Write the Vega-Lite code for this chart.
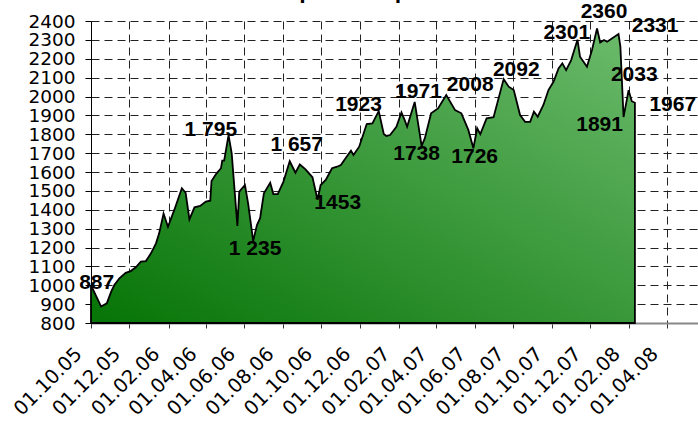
{
  "$schema": "https://vega.github.io/schema/vega-lite/v6.json",
  "width": 607,
  "height": 302,
  "autosize": {"type": "none"},
  "padding": {"left": 91, "top": 21, "right": 0, "bottom": 98},
  "background": "white",
  "title": {
    "text": "Цена акций",
    "font": "Liberation Sans",
    "fontSize": 26,
    "fontWeight": "bold",
    "color": "black",
    "anchor": "middle",
    "dx": -36,
    "dy": 6
  },
  "config": {
    "view": {"stroke": null},
    "axis": {"gridColor": "#222", "gridDash": [8, 5], "gridWidth": 1, "gridOpacity": 1}
  },
  "datasets": {
    "price": [
      {"date": "2005-10-01", "value": 1000},
      {"date": "2005-10-17", "value": 887},
      {"date": "2005-10-26", "value": 904},
      {"date": "2005-11-02", "value": 966},
      {"date": "2005-11-07", "value": 1001},
      {"date": "2005-11-15", "value": 1037},
      {"date": "2005-11-25", "value": 1066},
      {"date": "2005-12-03", "value": 1075},
      {"date": "2005-12-11", "value": 1095},
      {"date": "2005-12-19", "value": 1125},
      {"date": "2005-12-27", "value": 1128},
      {"date": "2006-01-04", "value": 1169},
      {"date": "2006-01-12", "value": 1222},
      {"date": "2006-01-17", "value": 1275},
      {"date": "2006-01-24", "value": 1380},
      {"date": "2006-01-31", "value": 1310},
      {"date": "2006-02-10", "value": 1399},
      {"date": "2006-02-22", "value": 1514},
      {"date": "2006-02-28", "value": 1490},
      {"date": "2006-03-06", "value": 1349},
      {"date": "2006-03-14", "value": 1413},
      {"date": "2006-03-23", "value": 1420},
      {"date": "2006-04-01", "value": 1443},
      {"date": "2006-04-08", "value": 1448},
      {"date": "2006-04-10", "value": 1552},
      {"date": "2006-04-18", "value": 1593},
      {"date": "2006-04-25", "value": 1620},
      {"date": "2006-04-27", "value": 1660},
      {"date": "2006-04-30", "value": 1660},
      {"date": "2006-05-07", "value": 1795},
      {"date": "2006-05-12", "value": 1699},
      {"date": "2006-05-21", "value": 1314},
      {"date": "2006-05-24", "value": 1496},
      {"date": "2006-06-02", "value": 1531},
      {"date": "2006-06-07", "value": 1434},
      {"date": "2006-06-15", "value": 1235},
      {"date": "2006-06-21", "value": 1319},
      {"date": "2006-06-26", "value": 1355},
      {"date": "2006-07-02", "value": 1487},
      {"date": "2006-07-12", "value": 1543},
      {"date": "2006-07-17", "value": 1483},
      {"date": "2006-07-24", "value": 1483},
      {"date": "2006-08-02", "value": 1549},
      {"date": "2006-08-12", "value": 1657},
      {"date": "2006-08-21", "value": 1596},
      {"date": "2006-08-28", "value": 1640},
      {"date": "2006-09-06", "value": 1614},
      {"date": "2006-09-17", "value": 1572},
      {"date": "2006-09-25", "value": 1453},
      {"date": "2006-09-30", "value": 1531},
      {"date": "2006-10-08", "value": 1558},
      {"date": "2006-10-18", "value": 1620},
      {"date": "2006-10-26", "value": 1628},
      {"date": "2006-11-01", "value": 1637},
      {"date": "2006-11-09", "value": 1676},
      {"date": "2006-11-17", "value": 1713},
      {"date": "2006-11-21", "value": 1690},
      {"date": "2006-11-30", "value": 1734},
      {"date": "2006-12-12", "value": 1854},
      {"date": "2006-12-21", "value": 1858},
      {"date": "2006-12-31", "value": 1923},
      {"date": "2007-01-08", "value": 1801},
      {"date": "2007-01-12", "value": 1791},
      {"date": "2007-01-18", "value": 1796},
      {"date": "2007-01-28", "value": 1840},
      {"date": "2007-02-05", "value": 1915},
      {"date": "2007-02-10", "value": 1876},
      {"date": "2007-02-14", "value": 1840},
      {"date": "2007-02-26", "value": 1971},
      {"date": "2007-03-09", "value": 1738},
      {"date": "2007-03-14", "value": 1778},
      {"date": "2007-03-24", "value": 1911},
      {"date": "2007-04-04", "value": 1937},
      {"date": "2007-04-17", "value": 2008},
      {"date": "2007-05-01", "value": 1928},
      {"date": "2007-05-11", "value": 1911},
      {"date": "2007-05-22", "value": 1823},
      {"date": "2007-05-30", "value": 1726},
      {"date": "2007-06-05", "value": 1832},
      {"date": "2007-06-10", "value": 1801},
      {"date": "2007-06-20", "value": 1884},
      {"date": "2007-07-01", "value": 1890},
      {"date": "2007-07-17", "value": 2092},
      {"date": "2007-07-25", "value": 2052},
      {"date": "2007-08-02", "value": 2034},
      {"date": "2007-08-12", "value": 1902},
      {"date": "2007-08-20", "value": 1866},
      {"date": "2007-08-28", "value": 1866},
      {"date": "2007-09-03", "value": 1920},
      {"date": "2007-09-09", "value": 1893},
      {"date": "2007-09-18", "value": 1955},
      {"date": "2007-09-26", "value": 2034},
      {"date": "2007-10-04", "value": 2078},
      {"date": "2007-10-12", "value": 2149},
      {"date": "2007-10-18", "value": 2176},
      {"date": "2007-10-24", "value": 2140},
      {"date": "2007-11-01", "value": 2193},
      {"date": "2007-11-11", "value": 2301},
      {"date": "2007-11-15", "value": 2211},
      {"date": "2007-11-26", "value": 2158},
      {"date": "2007-12-04", "value": 2246},
      {"date": "2007-12-12", "value": 2360},
      {"date": "2007-12-17", "value": 2286},
      {"date": "2007-12-23", "value": 2299},
      {"date": "2007-12-28", "value": 2290},
      {"date": "2008-01-15", "value": 2331},
      {"date": "2008-01-18", "value": 2264},
      {"date": "2008-01-23", "value": 1891},
      {"date": "2008-01-31", "value": 2033},
      {"date": "2008-02-05", "value": 1975},
      {"date": "2008-02-10", "value": 1967}
    ],
    "labels": [
      {"date": "2005-10-10", "value": 1012, "label": "887"},
      {"date": "2006-04-09", "value": 1822, "label": "1 795"},
      {"date": "2006-08-23", "value": 1743, "label": "1 657"},
      {"date": "2006-06-18", "value": 1190, "label": "1 235"},
      {"date": "2006-10-27", "value": 1437, "label": "1453"},
      {"date": "2006-11-29", "value": 1955, "label": "1923"},
      {"date": "2007-03-04", "value": 2025, "label": "1971"},
      {"date": "2007-05-25", "value": 2061, "label": "2008"},
      {"date": "2007-03-01", "value": 1695, "label": "1738"},
      {"date": "2007-06-01", "value": 1677, "label": "1726"},
      {"date": "2007-08-06", "value": 2140, "label": "2092"},
      {"date": "2007-10-25", "value": 2335, "label": "2301"},
      {"date": "2007-12-23", "value": 2446, "label": "2360"},
      {"date": "2008-03-13", "value": 2373, "label": "2331"},
      {"date": "2008-02-09", "value": 2114, "label": "2033"},
      {"date": "2007-12-16", "value": 1849, "label": "1891"},
      {"date": "2008-04-10", "value": 1955, "label": "1967"}
    ]
  },
  "encoding": {
    "x": {
      "field": "date",
      "type": "temporal",
      "scale": {
        "type": "utc",
        "domain": [
          {"year": 2005, "month": 10, "date": 1, "utc": true},
          {"year": 2008, "month": 5, "date": 20, "utc": true}
        ]
      },
      "axis": {
        "title": null,
        "values": [
          {"year": 2005, "month": 10, "date": 1, "utc": true},
          {"year": 2005, "month": 12, "date": 1, "utc": true},
          {"year": 2006, "month": 2, "date": 1, "utc": true},
          {"year": 2006, "month": 4, "date": 1, "utc": true},
          {"year": 2006, "month": 6, "date": 1, "utc": true},
          {"year": 2006, "month": 8, "date": 1, "utc": true},
          {"year": 2006, "month": 10, "date": 1, "utc": true},
          {"year": 2006, "month": 12, "date": 1, "utc": true},
          {"year": 2007, "month": 2, "date": 1, "utc": true},
          {"year": 2007, "month": 4, "date": 1, "utc": true},
          {"year": 2007, "month": 6, "date": 1, "utc": true},
          {"year": 2007, "month": 8, "date": 1, "utc": true},
          {"year": 2007, "month": 10, "date": 1, "utc": true},
          {"year": 2007, "month": 12, "date": 1, "utc": true},
          {"year": 2008, "month": 2, "date": 1, "utc": true},
          {"year": 2008, "month": 4, "date": 1, "utc": true}
        ],
        "format": "%d.%m.%y",
        "labelAngle": -45,
        "labelFont": "DejaVu Sans",
        "labelFontSize": 19.5,
        "labelColor": "black",
        "labelFlush": false,
        "labelOverlap": false,
        "labelPadding": 16,
        "labelOffset": -19,
        "tickSize": 5,
        "tickColor": "#333",
        "domainColor": "#888",
        "domainWidth": 2,
        "grid": true
      }
    },
    "y": {
      "field": "value",
      "type": "quantitative",
      "scale": {"domain": [800, 2400], "zero": false, "nice": false},
      "axis": {
        "title": null,
        "values": [800, 900, 1000, 1100, 1200, 1300, 1400, 1500, 1600, 1700, 1800, 1900, 2000, 2100, 2200, 2300, 2400],
        "format": "d",
        "labelFont": "DejaVu Sans",
        "labelFontSize": 18.5,
        "labelColor": "black",
        "labelOverlap": false,
        "labelFlush": false,
        "labelPadding": 10,
        "tickSize": 6,
        "tickColor": "black",
        "domainColor": "black",
        "domainWidth": 1,
        "grid": true
      }
    }
  },
  "layer": [
    {
      "data": {"name": "price"},
      "mark": {
        "type": "area",
        "stroke": "black",
        "strokeWidth": 1.8,
        "strokeJoin": "miter",
        "color": {
          "gradient": "linear",
          "x1": 0, "y1": 1, "x2": 1, "y2": 0,
          "stops": [
            {"offset": 0, "color": "#067406"},
            {"offset": 1, "color": "#6cbb6c"}
          ]
        },
        "fillOpacity": 1
      },
      "encoding": {
        "y2": {"datum": 800}
      }
    },
    {
      "data": {"name": "labels"},
      "mark": {
        "type": "text",
        "font": "Liberation Sans",
        "fontWeight": "bold",
        "fontSize": 21,
        "color": "black",
        "align": "center",
        "baseline": "middle"
      },
      "encoding": {
        "text": {"field": "label"}
      }
    }
  ]
}
